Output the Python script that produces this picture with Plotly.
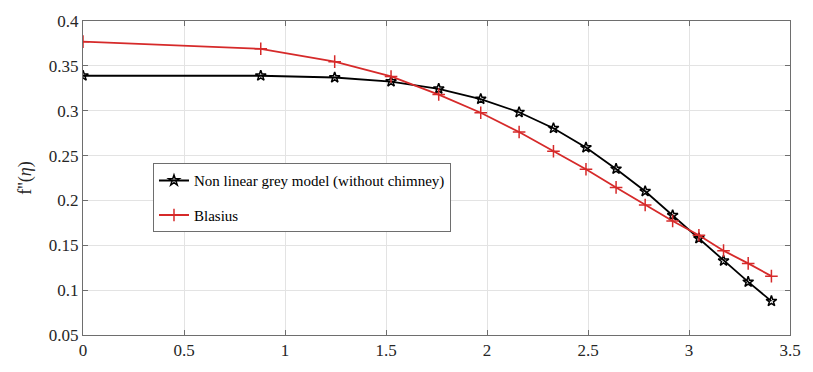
import plotly.graph_objects as go

eta = [0, 0.88, 1.246, 1.525, 1.761, 1.969, 2.159, 2.329, 2.49, 2.639, 2.783, 2.919, 3.049, 3.171, 3.293, 3.408]
grey_model = [0.339, 0.339, 0.337, 0.3325, 0.3244, 0.313, 0.2983, 0.2805, 0.259, 0.2351, 0.2102, 0.1834, 0.1577, 0.1327, 0.1092, 0.0877]
blasius = [0.377, 0.369, 0.3547, 0.3382, 0.318, 0.2977, 0.2763, 0.2549, 0.2348, 0.2145, 0.1949, 0.177, 0.1612, 0.144, 0.1298, 0.1156]

x_ticks = [0, 0.5, 1, 1.5, 2, 2.5, 3, 3.5]
y_ticks = [0.05, 0.1, 0.15, 0.2, 0.25, 0.3, 0.35, 0.4]

FONT = "Liberation Serif"

fig = go.Figure()
fig.add_trace(go.Scatter(
    x=eta, y=grey_model, mode="lines+markers",
    name="Non linear grey model (without chimney)",
    legendgroup="a",
    line=dict(color="black", width=1.8),
    marker=dict(symbol="star-open", size=8, color="black", line=dict(width=1.5, color="black")),
))
fig.add_trace(go.Scatter(
    x=eta, y=blasius, mode="lines+markers",
    name="Blasius",
    legendgroup="b",
    line=dict(color="#d62a2a", width=1.8),
    marker=dict(symbol="cross-thin", size=9, color="#d62a2a", line=dict(width=1.5, color="#d62a2a")),
))

axis_common = dict(
    showgrid=True, gridcolor="#e3e3e3", gridwidth=1,
    showline=True, linecolor="#6e6e6e", linewidth=1, mirror="ticks",
    ticks="inside", ticklen=5, tickcolor="#6e6e6e",
    tickfont=dict(family=FONT, size=17, color="#262626"),
    zeroline=False,
)

fig.update_layout(
    width=813, height=372,
    margin=dict(l=83, r=12, t=18, b=27),
    plot_bgcolor="white", paper_bgcolor="white",
    font=dict(family=FONT),
    xaxis=dict(range=[0, 3.5], tickvals=x_ticks, ticktext=[str(v) for v in x_ticks], **axis_common),
    yaxis=dict(range=[0.05, 0.4], tickvals=y_ticks, ticktext=[str(v) for v in y_ticks],
               title=dict(text="f''(<i>η</i>)", font=dict(family=FONT, size=18, color="#262626"), standoff=12),
               **axis_common),
    legend=dict(
        x=0.099, y=0.547, xanchor="left", yanchor="top",
        bgcolor="white", bordercolor="#6e6e6e", borderwidth=1,
        font=dict(family=FONT, size=15, color="black"),
        traceorder="grouped", tracegroupgap=12, itemwidth=30,
    ),
    showlegend=True,
)

fig.write_html("out.html")
